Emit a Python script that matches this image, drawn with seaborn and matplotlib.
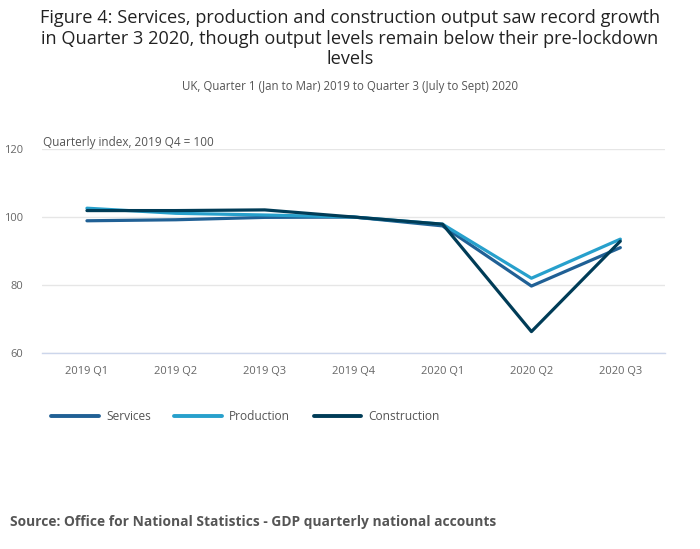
import numpy as np
import pandas as pd
import matplotlib
matplotlib.use("Agg")
import matplotlib.pyplot as plt
import seaborn as sns
from matplotlib.lines import Line2D

quarters = ["2019 Q1", "2019 Q2", "2019 Q3", "2019 Q4", "2020 Q1", "2020 Q2", "2020 Q3"]
services = [98.9, 99.2, 99.9, 100.0, 97.4, 79.7, 91.0]
production = [102.6, 101.1, 100.6, 100.0, 97.9, 82.0, 93.5]
construction = [101.9, 101.9, 102.1, 100.0, 97.9, 66.3, 92.9]
series_names = ["Services", "Production", "Construction"]
colors = ["#206095", "#27a0cc", "#003c57"]
y_ticks = [60, 80, 100, 120]

sns.set_theme(style="white")
plt.rcParams['font.family'] = ['Open Sans', 'DejaVu Sans']

df = pd.DataFrame({
    "quarter": quarters * 3,
    "pos": list(range(len(quarters))) * 3,
    "value": services + production + construction,
    "series": sum([[n] * len(quarters) for n in series_names], []),
})

fig = plt.figure(figsize=(7.0, 5.49), dpi=100)
ax = fig.add_axes([0.0607, 0.357, 0.889, 0.3715])

sns.lineplot(data=df, x="pos", y="value", hue="series", hue_order=series_names,
             palette=colors, linewidth=2.3, ax=ax, legend=False)

ax.set_xlim(-0.5, len(quarters) - 0.5)
ax.set_ylim(60, 120)
ax.set_yticks(y_ticks)
ax.set_yticklabels([str(v) for v in y_ticks])
ax.set_xticks(np.arange(len(quarters)))
ax.set_xticklabels(quarters)
ax.set_xticks(np.arange(-0.5, len(quarters)), minor=True)
ax.tick_params(axis="x", which="major", length=0, pad=9, labelsize=8, labelcolor="#666666")
ax.tick_params(axis="x", which="minor", length=8, width=1, color="#ccd6eb")
ax.tick_params(axis="y", length=0, pad=14, labelsize=8, labelcolor="#666666")
ax.grid(axis="y", color="#e6e6e6", linewidth=1)
ax.set_xlabel("")
ax.set_ylabel("")
for s in ["top", "right", "left"]:
    ax.spines[s].set_visible(False)
ax.spines["bottom"].set_color("#ccd6eb")
ax.spines["bottom"].set_linewidth(1)

fig.text(0.5, 0.983, "Figure 4: Services, production and construction output saw record growth\n"
         "in Quarter 3 2020, though output levels remain below their pre-lockdown\nlevels",
         ha="center", va="top", fontsize=13.1, color="#222222", linespacing=1.16)
fig.text(0.5, 0.843, "UK, Quarter 1 (Jan to Mar) 2019 to Quarter 3 (July to Sept) 2020",
         ha="center", va="center", fontsize=8.3, color="#555555")
fig.text(0.0614, 0.741, "Quarterly index, 2019 Q4 = 100", ha="left", va="center",
         fontsize=8.5, color="#555555")

handles = [Line2D([0], [0], color=c, lw=2.8) for c in colors]
fig.legend(handles, series_names, loc="center left", bbox_to_anchor=(0.058, 0.241),
           ncol=3, frameon=False, fontsize=8.6, handlelength=4.0, handletextpad=0.6,
           columnspacing=1.95, labelcolor="#555555")

fig.text(0.014, 0.049, "Source: Office for National Statistics - GDP quarterly national accounts",
         ha="left", va="center", fontsize=9.9, fontweight="bold", color="#555555")

fig.savefig("out.png", dpi=100, facecolor="white")
